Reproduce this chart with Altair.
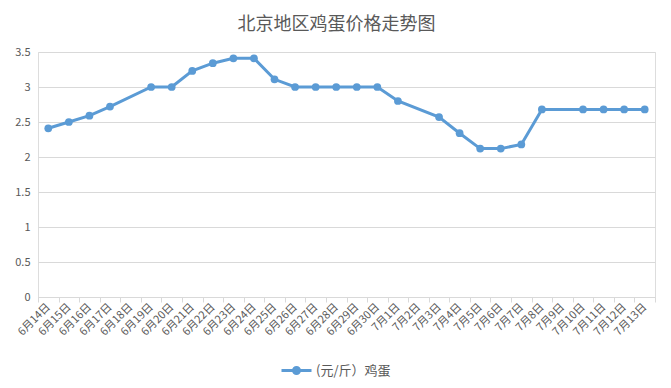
import altair as alt
import pandas as pd

dates = ["6月14日", "6月15日", "6月16日", "6月17日", "6月18日", "6月19日", "6月20日",
         "6月21日", "6月22日", "6月23日", "6月24日", "6月25日", "6月26日", "6月27日",
         "6月28日", "6月29日", "6月30日", "7月1日", "7月2日", "7月3日", "7月4日",
         "7月5日", "7月6日", "7月7日", "7月8日", "7月9日", "7月10日", "7月11日",
         "7月12日", "7月13日"]
values = [2.41, 2.50, 2.59, 2.72, None, 3.00, 3.00, 3.23, 3.34, 3.41, 3.41, 3.11,
          3.00, 3.00, 3.00, 3.00, 3.00, 2.80, None, 2.57, 2.34, 2.12, 2.12, 2.18,
          2.68, None, 2.68, 2.68, 2.68, 2.68]
series_name = "(元/斤）鸡蛋"
y_ticks = [0, 0.5, 1, 1.5, 2, 2.5, 3, 3.5]

rows = [{"date": d, "value": v, "series": series_name}
        for d, v in zip(dates, values) if v is not None]
df = pd.DataFrame(rows)

FONT = "Noto Sans CJK SC"
COLOR = "#5B9BD5"
TEXT = "#595959"
GRID = "#D9D9D9"

legend_symbol = ("M-1,0L1,0M-0.2,0A0.2,0.2,0,1,0,0.2,0A0.2,0.2,0,1,0,-0.2,0Z")

base = alt.Chart(df).encode(
    x=alt.X("date:N", sort=dates, bandPosition=0.5,
            scale=alt.Scale(type="band", domain=dates, paddingInner=0, paddingOuter=0),
            axis=alt.Axis(title=None, labelAngle=-45, labelAlign="right",
                          labelBaseline="middle", tickBand="extent",
                          domainColor=GRID, tickColor=GRID, tickSize=5,
                          labelPadding=3, labelFontSize=11, labelColor=TEXT,
                          labelFont=FONT, grid=False, labelOverlap=False)),
    y=alt.Y("value:Q", scale=alt.Scale(domain=[0, 3.5], nice=False),
            axis=alt.Axis(title=None, values=y_ticks, format=".1~f", domain=False,
                          ticks=False, gridColor=GRID, labelPadding=8,
                          labelFontSize=11, labelColor=TEXT, labelFont=FONT)),
    color=alt.Color("series:N", scale=alt.Scale(range=[COLOR]),
                    legend=alt.Legend(title=None, orient="none", legendX=242, legendY=302,
                                      symbolType=legend_symbol, symbolSize=900,
                                      symbolStrokeWidth=3, symbolFillColor=COLOR,
                                      labelOffset=3,
                                      labelFontSize=13, labelColor=TEXT, labelFont=FONT)),
)

line = base.mark_line(strokeWidth=3)
pts = base.mark_point(filled=True, size=60, opacity=1)

chart = (line + pts).properties(
    width=617, height=245,
    title=alt.TitleParams("北京地区鸡蛋价格走势图", fontSize=18, color=TEXT, font=FONT,
                          fontWeight="normal", offset=12, dx=-10),
    padding={"left": 30, "top": 44, "right": 8, "bottom": 82},
    autosize=alt.AutoSizeParams(type="none"),
).configure_view(stroke=None).configure(background="white")

chart.save("out.html", embed_options={"renderer": "svg", "actions": False})
